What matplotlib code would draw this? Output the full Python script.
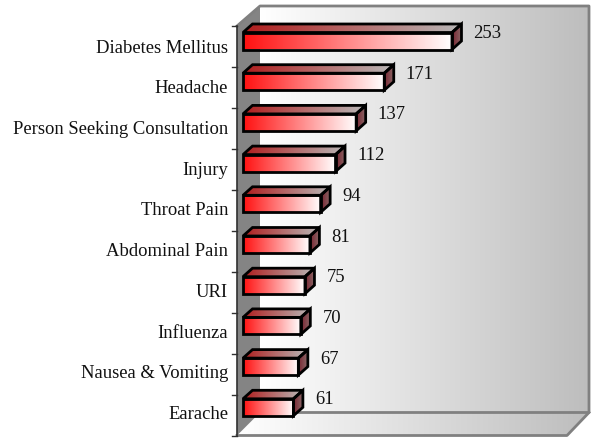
import numpy as np
import matplotlib
matplotlib.use("Agg")
import matplotlib.pyplot as plt
from matplotlib.patches import Polygon
from matplotlib.colors import LinearSegmentedColormap as L

categories = ["Diabetes Mellitus", "Headache", "Person Seeking Consultation", "Injury", "Throat Pain",
              "Abdominal Pain", "URI", "Influenza", "Nausea & Vomiting", "Earache"]
values = [253, 171, 137, 112, 94, 81, 75, 70, 67, 61]

W, H = 595, 438
plt.rcParams["font.family"] = ["Liberation Serif", "DejaVu Serif"]
fig = plt.figure(figsize=(W / 100, H / 100), dpi=100)
ax = fig.add_axes([0, 0, 1, 1])

# value axis: 0 at pixel 243, 0.826 px per case; category axis: 40.7 px per slot
PX = 0.826
X0 = 243
Y0 = 41
SLOT = 40.7
ax.set_xlim(-X0 / PX, (W - X0) / PX)
ax.set_ylim((H - Y0) / SLOT, -Y0 / SLOT)
ax.axis("off")

def dx(p):
    return (p - X0) / PX

def dy(p):
    return (p - Y0) / SLOT

def grad_poly(points, cmap, z):
    xs = [p[0] for p in points]
    ys = [p[1] for p in points]
    im = ax.imshow(np.linspace(0, 1, 256)[None, :], cmap=cmap, aspect="auto", zorder=z,
                   extent=[min(xs), max(xs), max(ys), min(ys)], interpolation="bilinear")
    clip = Polygon(points, closed=True, transform=ax.transData, fc="none", ec="none")
    ax.add_patch(clip)
    im.set_clip_path(clip)

wall = L.from_list("wall", ["#ffffff", "#bdbdbd"])
front = L.from_list("front", ["#ff1010", "#ffffff"])
top = L.from_list("top", ["#b01c1c", "#b8b8b8"])
side = L.from_list("side", ["#7a2430", "#8a6a6a"])

# back wall, floor, left wall
gx0, gx1, gx2 = dx(237), dx(260), dx(589)
gx3 = dx(567)
yt0, yt1, yb1, yb0 = dy(26), dy(6), dy(412.5), dy(435.5)
grad_poly([(gx1, yt1), (gx2, yt1), (gx2, yb1), (gx1, yb1)], wall, 1)
grad_poly([(gx1, yb1), (gx2, yb1), (gx3, yb0), (gx0, yb0)], wall, 1)
ax.add_patch(Polygon([(gx0, yt0), (gx1, yt1), (gx1, yb1), (gx0, yb0)], fc="#848484", ec="none", zorder=2))
ax.plot([gx0, gx1, gx2, gx2, gx1], [yt0, yt1, yt1, yb1, yb1], color="#808080", lw=2, zorder=3)
ax.plot([gx0, gx3, gx2], [yb0, yb0, yb1], color="#808080", lw=2, zorder=3)
ax.plot([gx0, gx0], [yt0, yb0], color="#303030", lw=1.2, zorder=4)

# ticks
for k in range(len(categories) + 1):
    ty = dy(26 + k * 41)
    ax.plot([dx(232), gx0], [ty, ty], color="#303030", lw=1, zorder=4)

# bars
DX = 9.5 / PX
DY = 8.5 / SLOT
HALF = 8.5 / SLOT
for i, (c, v) in enumerate(zip(categories, values)):
    f = [(0, i - HALF), (v, i - HALF), (v, i + HALF), (0, i + HALF)]
    t = [(0, i - HALF), (DX, i - HALF - DY), (v + DX, i - HALF - DY), (v, i - HALF)]
    s = [(v, i - HALF), (v + DX, i - HALF - DY), (v + DX, i + HALF - DY), (v, i + HALF)]
    for pts, cm in ((t, top), (s, side), (f, front)):
        grad_poly(pts, cm, 5 + i)
        ax.add_patch(Polygon(pts, closed=True, fc="none", ec="black", lw=2, joinstyle="miter", zorder=5.5 + i))
    ax.text(dx(228), i + dy(49) - dy(41) - 0.02, c, ha="right", va="center", fontsize=13.4, color="#111111", zorder=20)
    ax.text(v + 21.5 / PX, i - 7.5 / SLOT, str(v), ha="left", va="center", fontsize=13.4, color="#111111", zorder=20)

ax.set_xlim(-X0 / PX, (W - X0) / PX)
ax.set_ylim((H - Y0) / SLOT, -Y0 / SLOT)
fig.savefig("out.png", dpi=100)
